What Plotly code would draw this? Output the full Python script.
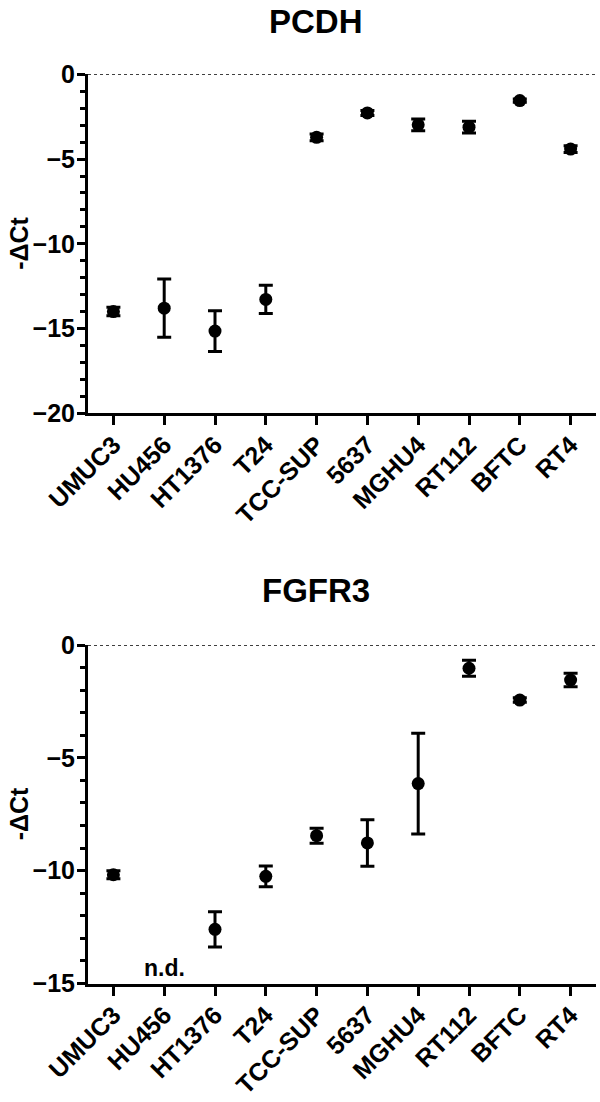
import plotly.graph_objects as go

cell_lines = ["UMUC3", "HU456", "HT1376", "T24", "TCC-SUP", "5637", "MGHU4", "RT112", "BFTC", "RT4"]

pcdh_mean = [-14.0, -13.8, -15.15, -13.28, -3.72, -2.28, -2.98, -3.12, -1.55, -4.41]
pcdh_err = [0.25, 1.72, 1.2, 0.83, 0.2, 0.15, 0.35, 0.35, 0.1, 0.2]

fgfr3_mean = [-10.18, None, -12.6, -10.25, -8.45, -8.77, -6.14, -1.03, -2.44, -1.55]
fgfr3_err = [0.18, None, 0.78, 0.46, 0.33, 1.03, 2.23, 0.35, 0.1, 0.3]

titles = ["PCDH", "FGFR3"]
y_title = "-ΔCt"
y_ranges = [[-20, 0], [-15, 0]]
nd_label = "n.d."
nd_y = -14.33

W, H = 600, 1102
FONT = "Liberation Sans"

def px_x(x):
    return x / W

def px_y(y):
    return 1 - y / H

x_dom = [px_x(88), px_x(596)]
y_doms = [[px_y(413.3), px_y(74.3)], [px_y(983.5), px_y(645)]]
title_y = [21, 590]

fig = go.Figure()
for i, (mean, err) in enumerate([(pcdh_mean, pcdh_err), (fgfr3_mean, fgfr3_err)]):
    sfx = "" if i == 0 else "2"
    fig.add_trace(go.Scatter(
        x=cell_lines, y=mean, mode="markers",
        marker=dict(color="black", size=13, symbol="circle"),
        error_y=dict(type="data", array=err, visible=True, color="black", thickness=3, width=7),
        xaxis="x" + sfx, yaxis="y" + sfx, showlegend=False,
    ))

axis_common = dict(showgrid=False, zeroline=False, showline=True, linewidth=3, linecolor="black",
                   ticks="outside", tickwidth=3, tickcolor="black", automargin=False)
layout = dict(width=W, height=H, margin=dict(l=0, r=0, t=0, b=0),
              plot_bgcolor="white", paper_bgcolor="white",
              font=dict(family=FONT, color="black"))
for i in range(2):
    sfx = "" if i == 0 else "2"
    layout["xaxis" + sfx] = dict(axis_common, domain=x_dom, anchor="y" + sfx,
                                 type="category", categoryorder="array", categoryarray=cell_lines,
                                 range=[-0.5, 9.5], ticklen=9, tickangle=-45,
                                 ticklabelstandoff=-5,
                                 tickfont=dict(size=25, family=FONT, weight="bold", color="black"))
    layout["yaxis" + sfx] = dict(axis_common, domain=y_doms[i], anchor="x" + sfx,
                                 range=y_ranges[i], dtick=5, ticklen=8,
                                 tickfont=dict(size=25, family=FONT, weight="bold", color="black"),
                                 ticklabelstandoff=-3,
                                 minor=dict(dtick=1, ticks="outside", ticklen=5, tickwidth=2.5, tickcolor="black"))
fig.update_layout(**layout)

shapes = []
annotations = []
for i in range(2):
    sfx = "" if i == 0 else "2"
    shapes.append(dict(type="line", xref="x" + sfx + " domain", yref="y" + sfx,
                       x0=0, x1=1, y0=0, y1=0, line=dict(color="black", width=1.5, dash="dot")))
    annotations.append(dict(text=titles[i], xref="paper", yref="paper",
                            x=px_x(316), y=px_y(title_y[i]), xanchor="center", yanchor="middle",
                            showarrow=False, font=dict(size=33, family=FONT, weight="bold", color="black")))
    annotations.append(dict(text=y_title, xref="paper", yref="paper", textangle=-90,
                            x=px_x(19), y=sum(y_doms[i]) / 2, xanchor="center", yanchor="middle",
                            showarrow=False, font=dict(size=25, family=FONT, weight="bold", color="black")))
annotations.append(dict(text=nd_label, xref="x2", yref="y2", x=cell_lines[1], y=nd_y,
                        showarrow=False, xanchor="center", yanchor="middle",
                        font=dict(size=23, family=FONT, weight="bold", color="black")))
fig.update_layout(shapes=shapes, annotations=annotations)

# remove the default 8px page margin so the figure fills the window exactly
fig.write_html("out.html", config={"displayModeBar": False},
               post_script="document.body.style.margin='0';document.body.style.padding='0';")
